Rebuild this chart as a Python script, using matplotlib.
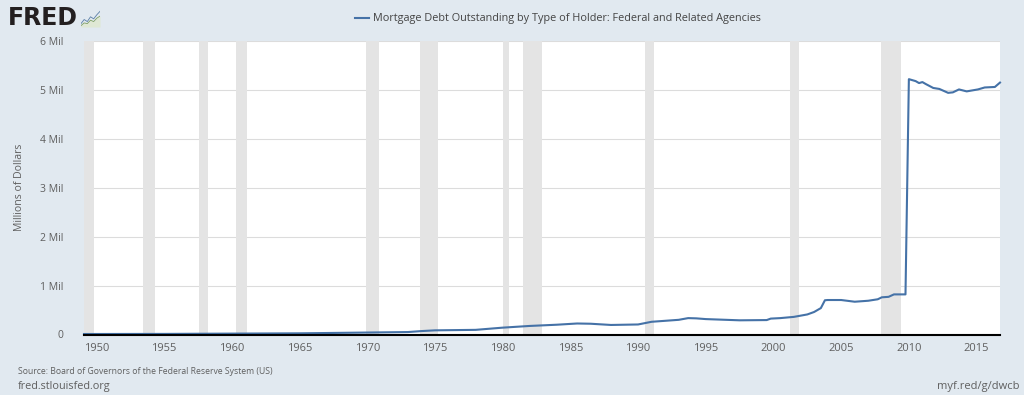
import matplotlib
matplotlib.use('Agg')
import matplotlib.pyplot as plt

plt.rcParams['font.family'] = ['Open Sans', 'DejaVu Sans']

# 数据：年份和数值（百万）
years = [1949.08, 1955, 1960, 1965, 1970, 1973, 1974, 1975, 1978, 1980, 1982, 1984, 1985.5,
         1986.5, 1988, 1990, 1991, 1992, 1993, 1993.7, 1994.3, 1995, 1996, 1997.5, 1999.5,
         1999.8, 2000.5, 2001.5, 2002.5, 2003, 2003.5, 2003.8, 2004, 2005, 2006, 2007,
         2007.7, 2008, 2008.5, 2008.9, 2009.75, 2010, 2010.5, 2010.75, 2011, 2011.25,
         2011.8, 2012.25, 2012.9, 2013.25, 2013.7, 2014.27, 2015.1, 2015.6, 2016.35, 2016.73]
values = [0.01, 0.012, 0.018, 0.024, 0.04, 0.05, 0.07, 0.085, 0.095, 0.14, 0.175, 0.2, 0.225,
          0.22, 0.195, 0.205, 0.26, 0.28, 0.3, 0.335, 0.33, 0.315, 0.305, 0.29, 0.295,
          0.325, 0.335, 0.36, 0.41, 0.46, 0.54, 0.7, 0.705, 0.705, 0.67, 0.69,
          0.72, 0.76, 0.77, 0.82, 0.82, 5.22, 5.18, 5.14, 5.16, 5.12,
          5.04, 5.02, 4.94, 4.95, 5.01, 4.97, 5.01, 5.05, 5.06, 5.15]
rec_start = [1948.9, 1953.45, 1957.6, 1960.3, 1969.9, 1973.9, 1980.0, 1981.5, 1990.5, 2001.2, 2007.95]
rec_end = [1949.8, 1954.3, 1958.25, 1961.1, 1970.85, 1975.2, 1980.5, 1982.9, 1991.2, 2001.9, 2009.45]
xticks = [1950, 1955, 1960, 1965, 1970, 1975, 1980, 1985, 1990, 1995, 2000, 2005, 2010, 2015]
yticks = [0, 1, 2, 3, 4, 5, 6]
ylabels = ['0', '1 Mil', '2 Mil', '3 Mil', '4 Mil', '5 Mil', '6 Mil']
logo_a = [0, 1, 2, 3, 4, 5, 6]
logo_b = [1, 2.2, 1.6, 3, 2.4, 3.6, 4.6]
logo_c = [0.4, 1.2, 1, 2, 1.6, 2.6, 3.2]

bg = '#e1e9f0'
text_c = '#5f5f5f'

fig = plt.figure(figsize=(10.24, 3.95), dpi=100, facecolor=bg)
ax = fig.add_axes([84 / 1024, 1 - 334.5 / 395, 916 / 1024, 293.5 / 395])

for a, b in zip(rec_start, rec_end):
    ax.axvspan(a, b, color='#e4e4e4', lw=0, zorder=1)
ax.set_axisbelow(True)
ax.grid(axis='y', color='#dcdcdc', lw=0.8, zorder=2)
ax.plot(years, values, color='#4572a7', lw=1.5, zorder=3, solid_joinstyle='round', clip_on=False)

ax.set_xlim(1949.08, 2016.73)
ax.set_ylim(0, 6)
ax.set_xticks(xticks)
ax.set_yticks(yticks, ylabels)
ax.tick_params(axis='x', length=0, pad=6, labelsize=8, colors=text_c)
ax.tick_params(axis='y', length=0, pad=15, labelsize=7.5, colors=text_c)
for s in ['top', 'left', 'right']:
    ax.spines[s].set_visible(False)
ax.spines['bottom'].set_color('#000000')
ax.spines['bottom'].set_linewidth(1.5)
ax.spines['bottom'].set_zorder(4)

fig.text(20 / 1024, 1 - 187.5 / 395, 'Millions of Dollars', rotation=90, ha='center', va='center',
         fontsize=7.6, color=text_c)

# 图例
fig.add_artist(plt.Line2D([355 / 1024, 369 / 1024], [1 - 18 / 395] * 2, color='#4572a7', lw=1.5))
fig.text(373 / 1024, 1 - 18 / 395, 'Mortgage Debt Outstanding by Type of Holder: Federal and Related Agencies',
         ha='left', va='center', fontsize=7.8, color='#444444')

# 底部文字
fig.text(18 / 1024, 1 - 371.5 / 395, 'Source: Board of Governors of the Federal Reserve System (US)',
         ha='left', va='center', fontsize=6.25, color=text_c)
fig.text(18 / 1024, 1 - 387 / 395, 'fred.stlouisfed.org', ha='left', va='center', fontsize=7.8, color=text_c)
fig.text(1020 / 1024, 1 - 387 / 395, 'myf.red/g/dwcb', ha='right', va='center', fontsize=8, color=text_c)

# FRED 标志
fig.text(8 / 1024, 1 - 18 / 395, 'FRED', ha='left', va='center', fontsize=17, fontweight='bold',
         color='#231f20', family='DejaVu Sans')
logo = fig.add_axes([81 / 1024, 1 - 27 / 395, 19 / 1024, 17 / 395])
logo.fill_between(logo_a, logo_c, color='#dfe8d4', lw=0)
logo.plot(logo_a, logo_b, color='#5b7fa6', lw=0.6)
logo.plot(logo_a, logo_c, color='#7f9f5f', lw=0.6)
logo.set_xlim(0, 6)
logo.set_ylim(0, 5)
logo.axis('off')

fig.savefig('out.png', dpi=100, facecolor=bg)
